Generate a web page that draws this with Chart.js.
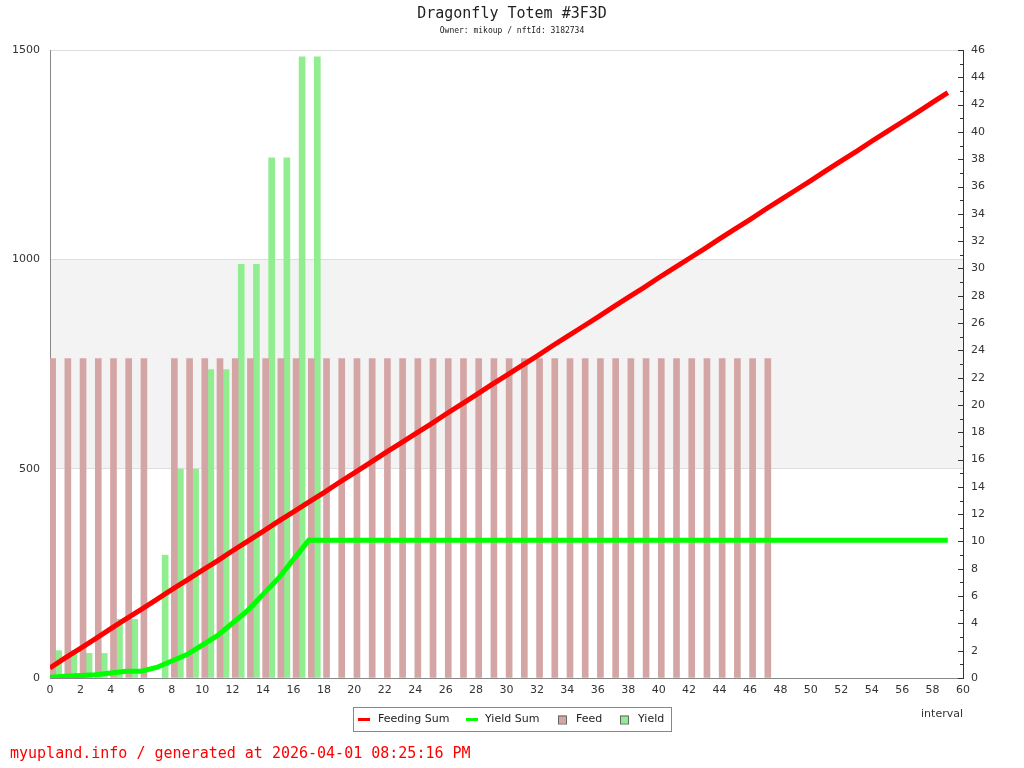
<!DOCTYPE html>
<html><head><meta charset="utf-8">
<script src="https://cdn.jsdelivr.net/npm/chart.js@4.4.1/dist/chart.umd.min.js"></script>
<style>html,body{margin:0;padding:0;background:#fff;}canvas{display:block;}</style>
</head><body>
<canvas id="c" width="1024" height="768"></canvas>
<script>
const chartTitle = "Dragonfly Totem #3F3D";
const chartSubtitle = "Owner: mikoup / nftId: 3182734";
const footerText = "myupland.info / generated at 2026-04-01 08:25:16 PM";
const xAxisTitle = "interval";
const seriesNames = ["Feeding Sum", "Yield Sum", "Feed", "Yield"];

const intervals = [0,1,2,3,4,5,6,7,8,9,10,11,12,13,14,15,16,17,18,19,20,21,22,23,24,25,26,27,28,29,
  30,31,32,33,34,35,36,37,38,39,40,41,42,43,44,45,46,47,48,49,50,51,52,53,54,55,56,57,58,59];

const feedingSum = [24,48,71,94,118,141,164,187,211,234,
  257,280,304,327,350,374,397,420,443,467,
  490,513,537,560,583,606,630,653,676,700,
  723,746,769,793,816,839,862,886,909,932,
  956,979,1002,1025,1049,1072,1095,1119,1142,1165,
  1188,1212,1235,1258,1282,1305,1328,1351,1375,1398];

const yieldSum = [2,4,5.8,7.6,11.9,16.2,16.2,25.2,40.5,55.8,
  78.4,101,131.3,161.6,199.7,237.8,283.3,328.8,328.8,328.8,
  328.8,328.8,328.8,328.8,328.8,328.8,328.8,328.8,328.8,328.8,
  328.8,328.8,328.8,328.8,328.8,328.8,328.8,328.8,328.8,328.8,
  328.8,328.8,328.8,328.8,328.8,328.8,328.8,328.8,328.8,328.8,
  328.8,328.8,328.8,328.8,328.8,328.8,328.8,328.8,328.8,328.8];

const feed = [23.4,23.4,23.4,23.4,23.4,23.4,23.4,null,23.4,23.4,
  23.4,23.4,23.4,23.4,23.4,23.4,23.4,23.4,23.4,23.4,
  23.4,23.4,23.4,23.4,23.4,23.4,23.4,23.4,23.4,23.4,
  23.4,23.4,23.4,23.4,23.4,23.4,23.4,23.4,23.4,23.4,
  23.4,23.4,23.4,23.4,23.4,23.4,23.4,23.4];

const yieldPerInterval = [2,2,1.8,1.8,4.3,4.3,null,9,15.3,15.3,
  22.6,22.6,30.3,30.3,38.1,38.1,45.5,45.5];

const leftAxis = {min: 0, max: 1500, step: 500};
const rightAxis = {min: 0, max: 46, step: 1, labelEvery: 2};
const xAxis = {min: 0, max: 60, step: 2};
const bandRange = [500, 1000];

const colors = {feedSum: '#ff0000', yieldSum: '#00ff00', feed: '#d4a5a5', yield: '#90ee90'};

function pts(xs, ys) {
  const out = [];
  for (let i = 0; i < ys.length; i++) if (ys[i] !== null) out.push({x: xs[i], y: ys[i]});
  return out;
}

Chart.defaults.font.family = "'DejaVu Sans', sans-serif";
Chart.defaults.font.size = 11;
Chart.defaults.color = '#333';

const decor = {
  id: 'decor',
  beforeDraw(chart) {
    const ctx = chart.ctx, a = chart.chartArea, y = chart.scales.y;
    ctx.save();
    ctx.fillStyle = '#fff';
    ctx.fillRect(0, 0, chart.width, chart.height);
    const y1 = y.getPixelForValue(bandRange[1]), y0 = y.getPixelForValue(bandRange[0]);
    ctx.fillStyle = '#f3f3f3';
    ctx.fillRect(a.left, y1, a.right - a.left, y0 - y1);
    ctx.restore();
  },
  afterDraw(chart) {
    const ctx = chart.ctx, a = chart.chartArea, r = chart.scales.y1;
    ctx.save();
    ctx.strokeStyle = '#333';
    ctx.lineWidth = 1;
    for (let v = rightAxis.min; v <= rightAxis.max; v += rightAxis.step) {
      const py = Math.round(r.getPixelForValue(v)) + 0.5;
      const len = (v % rightAxis.labelEvery === 0) ? 5 : 3;
      ctx.beginPath();
      ctx.moveTo(a.right - len, py);
      ctx.lineTo(a.right, py);
      ctx.stroke();
    }
    ctx.fillStyle = '#222';
    ctx.textAlign = 'center';
    ctx.textBaseline = 'middle';
    ctx.font = "15px 'DejaVu Sans Mono', monospace";
    ctx.fillText(chartTitle, 512, 14);
    ctx.font = "8px 'DejaVu Sans Mono', monospace";
    ctx.fillText(chartSubtitle, 512, 31);
    ctx.font = "11px 'DejaVu Sans', sans-serif";
    ctx.fillStyle = '#333';
    ctx.textAlign = 'right';
    ctx.fillText(xAxisTitle, a.right, 714);
    ctx.fillStyle = '#fff';
    ctx.fillRect(353, 707, 318, 24);
    ctx.strokeStyle = '#888';
    ctx.strokeRect(353.5, 707.5, 318, 24);
    const ly = 719.5;
    ctx.fillStyle = colors.feedSum;
    ctx.fillRect(358, ly - 1.5, 12, 3);
    ctx.fillStyle = colors.yieldSum;
    ctx.fillRect(466, ly - 1.5, 12, 3);
    ctx.fillStyle = colors.feed;
    ctx.fillRect(558, ly - 4, 8, 8);
    ctx.strokeStyle = '#666';
    ctx.strokeRect(558.5, ly - 3.5, 8, 8);
    ctx.fillStyle = colors.yield;
    ctx.fillRect(620, ly - 4, 8, 8);
    ctx.strokeRect(620.5, ly - 3.5, 8, 8);
    ctx.fillStyle = '#222';
    ctx.textAlign = 'left';
    ctx.fillText(seriesNames[0], 378, ly);
    ctx.fillText(seriesNames[1], 485, ly);
    ctx.fillText(seriesNames[2], 576, ly);
    ctx.fillText(seriesNames[3], 638, ly);
    ctx.fillStyle = '#ff0000';
    ctx.font = "15px 'DejaVu Sans Mono', monospace";
    ctx.fillText(footerText, 10, 754);
    ctx.restore();
  }
};

new Chart(document.getElementById('c'), {
  type: 'bar',
  data: {
    datasets: [
      {type: 'line', label: seriesNames[0], data: pts(intervals, feedingSum), xAxisID: 'x', yAxisID: 'y',
       borderColor: colors.feedSum, backgroundColor: colors.feedSum, borderWidth: 5, pointRadius: 0, tension: 0, order: 0},
      {type: 'line', label: seriesNames[1], data: pts(intervals, yieldSum), xAxisID: 'x', yAxisID: 'y',
       borderColor: colors.yieldSum, backgroundColor: colors.yieldSum, borderWidth: 5, pointRadius: 0, tension: 0, order: 0},
      {type: 'bar', label: seriesNames[2], data: pts(intervals, feed), xAxisID: 'xb', yAxisID: 'y1',
       backgroundColor: colors.feed, borderWidth: 0, barThickness: 6, order: 1},
      {type: 'bar', label: seriesNames[3], data: pts(intervals, yieldPerInterval), xAxisID: 'xb', yAxisID: 'y1',
       backgroundColor: colors.yield, borderWidth: 0, barThickness: 6, order: 1}
    ]
  },
  options: {
    responsive: false,
    animation: false,
    events: [],
    layout: {padding: {top: 50, left: 0, right: 0, bottom: 0}},
    plugins: {legend: {display: false}, tooltip: {enabled: false}, title: {display: false}},
    scales: {
      x: {
        type: 'linear', position: 'bottom', min: xAxis.min, max: xAxis.max, offset: false,
        ticks: {stepSize: xAxis.step, padding: 6, color: '#333', autoSkip: false, maxRotation: 0},
        grid: {drawOnChartArea: false, drawTicks: false},
        border: {display: true, color: '#888'},
        afterFit(s) { s.height = 90; }
      },
      xb: {
        type: 'linear', display: false, min: xAxis.min - 0.37, max: xAxis.max - 0.37, offset: false
      },
      y: {
        type: 'linear', position: 'left', min: leftAxis.min, max: leftAxis.max,
        ticks: {stepSize: leftAxis.step, padding: 10, color: '#333', callback: (v) => String(v)},
        grid: {drawTicks: false, color: (c) => c.tick && c.tick.value === 0 ? 'rgba(0,0,0,0)' : '#dedede'},
        border: {display: true, color: '#888'},
        afterFit(s) { s.width = 50; }
      },
      y1: {
        type: 'linear', position: 'right', min: rightAxis.min, max: rightAxis.max,
        ticks: {stepSize: rightAxis.step, padding: 8, color: '#333', autoSkip: false,
          callback: (v) => (v % rightAxis.labelEvery === 0 ? String(v) : '')},
        grid: {drawOnChartArea: false, drawTicks: false},
        border: {display: true, color: '#333'},
        afterFit(s) { s.width = 61; }
      }
    }
  },
  plugins: [decor]
});
</script>
</body></html>
